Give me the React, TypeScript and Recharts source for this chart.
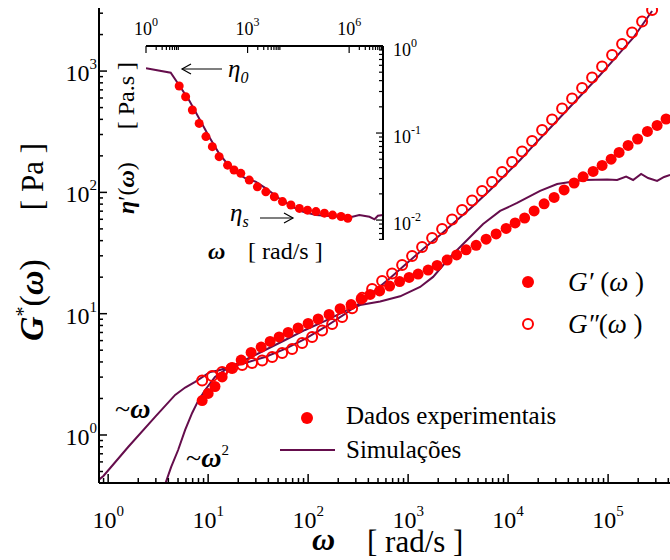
import React from 'react';
import { ComposedChart, Scatter, Line, XAxis, YAxis } from 'recharts';

const FONT = 'Liberation Serif, Times New Roman, serif';
const RED = '#ff0000';
const PURPLE = '#650d4c';

// G'(w) experimental (filled circles)
const wStorage = [8.71, 10.0, 11.7, 13.8, 17.0, 21.4, 26.9, 33.9, 41.7, 51.3, 63.1, 79.4, 100, 126, 162, 209, 269, 339, 417, 519, 653, 822, 1023, 1259, 1585, 1950, 2455, 3055, 3802, 4786, 6026, 7586, 9550, 11750, 14620, 18200, 22900, 28840, 36300, 45700, 56200, 70800, 87100, 107200, 128800, 158500, 197200, 247200, 309000, 380000];
const gStorage = [1.92, 2.2, 2.51, 3.01, 3.57, 4.15, 4.79, 5.31, 5.9, 6.43, 7.0, 7.62, 8.3, 9.04, 9.85, 11.0, 11.9, 13.2, 14.4, 15.4, 16.9, 18.4, 19.9, 21.2, 22.9, 25.0, 27.7, 30.5, 33.6, 36.6, 41.1, 45.4, 50.4, 56.0, 61.5, 70.3, 80.5, 90.8, 104.7, 119.5, 134.5, 148.7, 166.7, 187.8, 213.3, 243.6, 275.4, 317.7, 356.2, 402.7];

// G''(w) experimental (open circles)
const wLoss = [8.71, 10.96, 13.8, 17.4, 21.9, 27.5, 34.7, 43.7, 55.0, 69.2, 87.1, 109.6, 138, 173.8, 218.8, 275.4, 346.7, 436.5, 549.5, 691.8, 871, 1096, 1380, 1738, 2188, 2754, 3467, 4365, 5495, 6918, 8710, 10965, 13804, 17378, 21878, 27542, 34674, 43652, 54954, 69183, 87096, 109648, 138038, 173780, 218776, 275423];
const gLoss = [2.81, 3.06, 3.31, 3.57, 3.78, 3.92, 4.11, 4.4, 4.74, 5.12, 5.73, 6.43, 7.27, 8.22, 9.39, 11.1, 13.5, 16.0, 18.6, 21.4, 25.2, 29.9, 35.5, 42.1, 49.9, 59.8, 71.6, 85.7, 102.8, 121.8, 147.3, 178, 217, 265, 327, 399, 492, 595, 726, 885, 1091, 1358, 1673, 2080, 2564, 3190];

// simulations
const wSimStorage = [3.72, 4.27, 5.01, 5.89, 6.92, 7.94, 9.33, 11.7, 15.8, 23.4, 37.2, 58.9, 93.3, 148, 234, 331, 525, 832, 1318, 1778, 2630, 3890, 5623, 8318, 12303, 20893, 30903, 56234, 97724, 123027, 151356, 177828, 213796, 251189, 309030, 363078, 416869];
const gSimStorage = [0.394, 0.545, 0.752, 1.1, 1.52, 1.91, 2.35, 3.01, 3.57, 4.15, 5.02, 6.07, 7.34, 8.71, 10.5, 11.8, 12.6, 13.9, 16.6, 20.1, 29.3, 40.5, 54.9, 70.3, 81.8, 102.8, 117.3, 126.5, 127.7, 126.5, 135.2, 126.5, 141.9, 131.4, 124.2, 133.9, 139.0];
const wSimLoss = [0.803, 0.897, 1.585, 2.95, 4.68, 5.89, 7.41, 10.5, 12.6, 15.8, 23.4, 37.2, 58.9, 93.3, 148, 234, 295, 447, 661, 977, 1413, 2089, 3090, 4467, 6607, 9772, 13183, 17783, 26300, 38900, 56234, 83176, 123027, 177828, 275423];
const gSimLoss = [0.426, 0.459, 0.796, 1.41, 2.14, 2.46, 2.74, 3.31, 3.4, 3.6, 3.92, 4.4, 5.12, 6.19, 7.77, 9.95, 11.4, 15.1, 19.7, 26.2, 34.1, 44.5, 59.2, 77.1, 104.7, 144.5, 185, 241.5, 339.6, 477.6, 659, 929, 1334, 1875, 3126];

// inset: eta'(w)
const wEta = [9.55, 14.8, 23.4, 37.2, 58.9, 91.2, 144.5, 257, 398, 631, 1122, 1950, 3467, 6166, 10715, 19055, 33884, 58884, 104713, 186209, 323594, 575440, 912011];
const etaData = [0.347, 0.261, 0.184, 0.129, 0.091, 0.0697, 0.0535, 0.0427, 0.0376, 0.0344, 0.0288, 0.0241, 0.0211, 0.0185, 0.0163, 0.0149, 0.0136, 0.013, 0.0125, 0.012, 0.0114, 0.011, 0.0105];
const wEtaSim = [1, 5.37, 9.44, 18.6, 37.2, 72.4, 144.5, 355, 891, 1778, 3467, 8511, 21380, 41690, 104713, 512861, 1258925, 1995262, 3981072, 5623413, 7079458, 10000000];
const etaSim = [0.555, 0.493, 0.356, 0.239, 0.147, 0.091, 0.058, 0.0376, 0.03, 0.0275, 0.0231, 0.0178, 0.0142, 0.0125, 0.0114, 0.0109, 0.0109, 0.0114, 0.0109, 0.0102, 0.0112, 0.0114];

// axis ticks
const mainXDecades = [0.1, 1, 10, 100, 1000, 10000, 100000];
const mainYDecades = [0.1, 1, 10, 100, 1000];
const insetXMajors = [1, 1000, 1000000];
const insetYDecades = [0.001, 0.01, 0.1, 1];

const pairs = (w: number[], g: number[]) => w.map((v, i) => ({ w: v, g: g[i] }));

const minorTicks = (decades: number[], lo: number, hi: number) => {
  const out: number[] = [];
  decades.forEach((d) => {
    for (let k = 1; k <= 9; k++) {
      const v = k * d;
      if (v >= lo * 0.999 && v <= hi * 1.001) out.push(v);
    }
  });
  return out;
};

const isPow10 = (v: number) => Math.abs(Math.log10(v) - Math.round(Math.log10(v))) < 1e-6;
const expOf = (v: number) => Math.round(Math.log10(v));

const txt = { fontFamily: FONT, fill: '#000' };

const MainBottomTick = ({ x, y, payload }: any) => {
  const major = isPow10(payload.value);
  return (
    <g>
      <line x1={x} y1={y} x2={x} y2={y - (major ? 9 : 5)} stroke="#000" strokeWidth={1.5} />
      {major && (
        <text x={x} y={y + 45} textAnchor="middle" style={txt} fontSize={24}>
          10<tspan dy={-12} fontSize={15}>{expOf(payload.value)}</tspan>
        </text>
      )}
    </g>
  );
};

const MainLeftTick = ({ x, y, payload }: any) => {
  const major = isPow10(payload.value);
  return (
    <g>
      <line x1={x} y1={y} x2={x + (major ? 8 : 4)} y2={y} stroke="#000" strokeWidth={1.5} />
      {major && (
        <text x={x - 2} y={y + 10} textAnchor="end" style={txt} fontSize={24}>
          10<tspan dy={-12} fontSize={15}>{expOf(payload.value)}</tspan>
        </text>
      )}
    </g>
  );
};

const InsetTopTick = ({ x, y, payload }: any) => {
  const major = isPow10(payload.value);
  return (
    <g>
      <line x1={x} y1={y} x2={x} y2={y + (major ? 7 : 4)} stroke="#000" strokeWidth={1.2} />
      {major && (
        <text x={x} y={y - 11} textAnchor="middle" style={txt} fontSize={18}>
          10<tspan dy={-9} fontSize={12}>{expOf(payload.value)}</tspan>
        </text>
      )}
    </g>
  );
};

const InsetRightTick = ({ x, y, payload }: any) => {
  const major = isPow10(payload.value);
  return (
    <g>
      <line x1={x} y1={y} x2={x - (major ? 7 : 4)} y2={y} stroke="#000" strokeWidth={1.2} />
      {major && (
        <text x={x + 10} y={y + 10} style={txt} fontSize={18}>
          10<tspan dy={-9} fontSize={12}>{expOf(payload.value)}</tspan>
        </text>
      )}
    </g>
  );
};

const filledDot = (r: number) => (p: any) => <circle cx={p.cx} cy={p.cy} r={r} fill={RED} />;
const openDot = (p: any) => (
  <circle cx={p.cx} cy={p.cy} r={5} fill="none" stroke={RED} strokeWidth={2} />
);

const MainNotes = () => (
  <g style={txt}>
    <text transform="rotate(-90)" x={-341} y={43} fontSize={34} style={txt}>
      <tspan fontStyle="italic" fontWeight="bold">G</tspan>
      <tspan dy={-13} fontSize={20}>*</tspan>
      <tspan dy={13}>(</tspan>
      <tspan fontStyle="italic" fontWeight="bold">ω</tspan>
      <tspan>)</tspan>
    </text>
    <text transform="rotate(-90)" x={-143} y={43} fontSize={31} textAnchor="end" style={txt}>[ Pa ]</text>
    <text x={312} y={550} fontSize={32} fontStyle="italic" fontWeight="bold" style={txt}>ω</text>
    <text x={367} y={552} fontSize={31} style={txt}>[ rad/s ]</text>

    <text x={115} y={418} fontSize={28} style={txt}>
      ~<tspan fontStyle="italic" fontWeight="bold">ω</tspan>
    </text>
    <text x={186} y={467} fontSize={28} style={txt}>
      ~<tspan fontStyle="italic" fontWeight="bold">ω</tspan>
      <tspan dy={-12} fontSize={15}>2</tspan>
    </text>

    <circle cx={528} cy={282} r={6} fill={RED} />
    <text x={568} y={291} fontSize={27} style={txt}>
      <tspan fontStyle="italic">G′</tspan> (<tspan fontStyle="italic">ω</tspan> )
    </text>
    <circle cx={528} cy={324} r={5} fill="none" stroke={RED} strokeWidth={2} />
    <text x={568} y={333} fontSize={27} style={txt}>
      <tspan fontStyle="italic">G″</tspan>(<tspan fontStyle="italic">ω</tspan> )
    </text>

    <circle cx={307} cy={418} r={6} fill={RED} />
    <text x={346} y={424} fontSize={25} style={txt}>Dados experimentais</text>
    <line x1={280} y1={450} x2={335} y2={450} stroke={PURPLE} strokeWidth={2} />
    <text x={346} y={458} fontSize={25} style={txt}>Simulações</text>
  </g>
);

const InsetNotes = () => (
  <g style={txt}>
    <line x1={122} y1={69} x2={82} y2={69} stroke="#000" strokeWidth={1.2} />
    <polyline points="91,64 82,69 91,74" fill="none" stroke="#000" strokeWidth={1.2} />
    <text x={128} y={77} fontSize={25} fontStyle="italic" style={txt}>
      η<tspan dy={6} fontSize={16}>0</tspan>
    </text>
    <text x={130} y={221} fontSize={25} fontStyle="italic" style={txt}>
      η<tspan dy={6} fontSize={16}>s</tspan>
    </text>
    <line x1={160} y1={218} x2={193} y2={218} stroke="#000" strokeWidth={1.2} />
    <polyline points="184,213 193,218 184,223" fill="none" stroke="#000" strokeWidth={1.2} />

    <text x={108} y={259} fontSize={24} fontStyle="italic" fontWeight="bold" style={txt}>ω</text>
    <text x={148} y={259} fontSize={24} style={txt}>[ rad/s ]</text>
    <text transform="rotate(-90)" x={-214} y={34} fontSize={24} style={txt}>
      <tspan fontStyle="italic" fontWeight="bold">η</tspan>′(<tspan fontStyle="italic" fontWeight="bold">ω</tspan>)
    </text>
    <text transform="rotate(-90)" x={-62} y={34} fontSize={24} textAnchor="end" style={txt}>[ Pa.s ]</text>
  </g>
);

export default function App() {
  const axisStroke = { stroke: '#000', strokeWidth: 2 };
  return (
    <div style={{ position: 'absolute', left: 0, top: 0, width: 670, height: 560, overflow: 'hidden', background: '#fff', fontFamily: FONT }}>
      <ComposedChart width={700} height={560} margin={{ top: 8, right: 22, bottom: 17, left: 39 }} style={{ fontFamily: FONT }}>
        <XAxis
          dataKey="w"
          type="number"
          scale="log"
          domain={[0.81, 500000]}
          allowDataOverflow
          ticks={minorTicks(mainXDecades, 0.81, 500000)}
          interval={0}
          tickSize={0}
          tickMargin={0}
          tick={<MainBottomTick />}
          axisLine={axisStroke}
          height={60}
        />
        <XAxis xAxisId="top" orientation="top" type="number" scale="log" domain={[0.81, 500000]} allowDataOverflow height={0} tick={false} tickLine={false} axisLine={axisStroke} />
        <YAxis
          dataKey="g"
          type="number"
          scale="log"
          domain={[0.402, 3311]}
          allowDataOverflow
          ticks={minorTicks(mainYDecades, 0.402, 3311)}
          interval={0}
          tickSize={0}
          tickMargin={0}
          tick={<MainLeftTick />}
          axisLine={axisStroke}
          width={60}
        />
        <Line data={pairs(wSimLoss, gSimLoss)} dataKey="g" type="linear" stroke={PURPLE} strokeWidth={2} dot={false} isAnimationActive={false} />
        <Line data={pairs(wSimStorage, gSimStorage)} dataKey="g" type="linear" stroke={PURPLE} strokeWidth={2} dot={false} isAnimationActive={false} />
        <Scatter data={pairs(wStorage, gStorage)} shape={filledDot(5.5)} isAnimationActive={false} />
        <Scatter data={pairs(wLoss, gLoss)} shape={openDot} isAnimationActive={false} />
        <MainNotes />
      </ComposedChart>

      <div style={{ position: 'absolute', left: 100, top: 0 }}>
        <ComposedChart width={340} height={275} margin={{ top: 16, right: 0, bottom: 35, left: 46 }} style={{ fontFamily: FONT }}>
          <XAxis
            dataKey="w"
            orientation="top"
            type="number"
            scale="log"
            domain={[1, 10000000]}
            allowDataOverflow
            ticks={minorTicks(insetXMajors, 1, 10000000)}
            interval={0}
            tickSize={0}
            tickMargin={0}
            tick={<InsetTopTick />}
            axisLine={axisStroke}
            height={30}
          />
          <XAxis xAxisId="b" type="number" scale="log" domain={[1, 10000000]} allowDataOverflow height={0} tick={false} tickLine={false} axisLine={axisStroke} />
          <YAxis
            dataKey="g"
            orientation="right"
            type="number"
            scale="log"
            domain={[0.0059, 1]}
            allowDataOverflow
            ticks={minorTicks(insetYDecades, 0.0059, 1)}
            interval={0}
            tickSize={0}
            tickMargin={0}
            tick={<InsetRightTick />}
            axisLine={axisStroke}
            width={57}
          />
          <YAxis yAxisId="l" type="number" scale="log" domain={[0.0059, 1]} allowDataOverflow width={0} tick={false} tickLine={false} axisLine={axisStroke} />
          <Scatter data={pairs(wEta, etaData)} shape={filledDot(4.5)} isAnimationActive={false} />
          <Line data={pairs(wEtaSim, etaSim)} dataKey="g" type="linear" stroke={PURPLE} strokeWidth={2} dot={false} isAnimationActive={false} />
          <InsetNotes />
        </ComposedChart>
      </div>
    </div>
  );
}
